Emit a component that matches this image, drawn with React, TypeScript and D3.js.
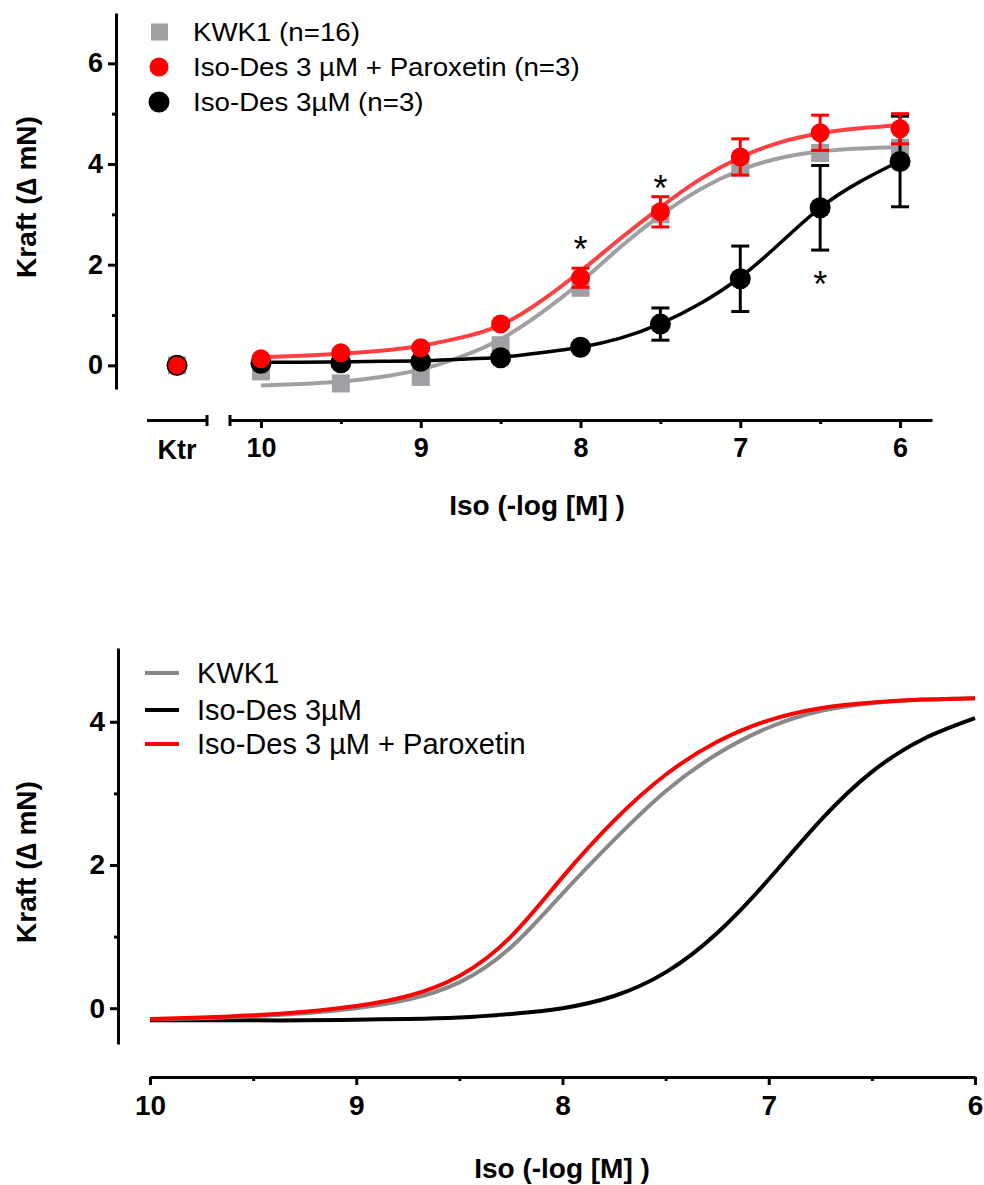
import * as d3 from "d3";
import { useEffect, useRef } from "react";

// concentrations (-log M) of the measured points
const conc = [10, 9.5, 9, 8.5, 8, 7.5, 7, 6.5, 6];
const kwk1Mean = [-0.12, -0.36, -0.23, 0.4, 1.54, 3.0, 3.93, 4.22, 4.32];
const paroMean = [0.13, 0.25, 0.35, 0.82, 1.74, 3.05, 4.14, 4.62, 4.7];
const paroErr = [0.04, 0.04, 0.04, 0.05, 0.19, 0.3, 0.36, 0.35, 0.3];
const desMean = [0.04, 0.05, 0.08, 0.15, 0.36, 0.82, 1.72, 3.13, 4.05];
const desErr = [0.04, 0.04, 0.04, 0.04, 0.05, 0.32, 0.65, 0.84, 0.9];
const ktrValue = 0;

// fitted curves
const fitConc = [10, 9.75, 9.5, 9.25, 9, 8.75, 8.5, 8.25, 8, 7.75, 7.5, 7.25, 7, 6.75, 6.5, 6.25, 6];
const kwk1Fit = [-0.4, -0.37, -0.32, -0.23, -0.08, 0.17, 0.52, 1.03, 1.65, 2.35, 2.98, 3.5, 3.88, 4.12, 4.25, 4.31, 4.34];
const paroFit = [0.16, 0.19, 0.23, 0.29, 0.39, 0.55, 0.8, 1.27, 1.87, 2.52, 3.14, 3.7, 4.13, 4.43, 4.61, 4.71, 4.77];
const desFit = [0.06, 0.06, 0.07, 0.08, 0.09, 0.12, 0.16, 0.25, 0.36, 0.54, 0.83, 1.23, 1.75, 2.43, 3.13, 3.65, 4.06];

// lower panel: fitted curves only
const kwk1Curve = [-0.15, -0.14, -0.11, -0.07, 0.0, 0.12, 0.36, 0.85, 1.6, 2.35, 3.03, 3.55, 3.92, 4.15, 4.26, 4.31, 4.33];
const desCurve = [-0.17, -0.17, -0.17, -0.17, -0.16, -0.15, -0.13, -0.08, 0.0, 0.17, 0.5, 1.05, 1.8, 2.62, 3.3, 3.76, 4.05];
const paroCurve = [-0.15, -0.13, -0.1, -0.05, 0.03, 0.17, 0.45, 1.0, 1.83, 2.62, 3.26, 3.72, 4.02, 4.19, 4.27, 4.31, 4.33];

const stars = [
  { x: 8, y: 2.45 },
  { x: 7.5, y: 3.66 },
  { x: 6.5, y: 1.75 },
];

const topLegend = ["KWK1 (n=16)", "Iso-Des 3 µM + Paroxetin (n=3)", "Iso-Des 3µM (n=3)"];
const bottomLegend = ["KWK1", "Iso-Des 3µM", "Iso-Des 3 µM + Paroxetin"];
const xMajor = [10, 9, 8, 7, 6];
const xMinor = [9.5, 8.5, 7.5, 6.5];
const yMajorTop = [0, 2, 4, 6];
const yMinorTop = [1, 3, 5];
const yMajorBottom = [0, 2, 4];
const yMinorBottom = [1, 3];

const GRAY = "#a0a0a4";
const RED = "#ff0000";
const FONT = "'Liberation Sans', Arial, sans-serif";

export default function App() {
  const ref = useRef(null);

  useEffect(() => {
    document.body.style.margin = "0";
    const svg = d3.select(ref.current);
    svg.selectAll("*").remove();

    function styleAxis(g, size) {
      g.attr("font-family", FONT).attr("font-size", size).attr("font-weight", "bold");
      g.selectAll("path, line").attr("stroke", "#000").attr("stroke-width", 3);
      g.selectAll("text").attr("fill", "#000");
    }

    function yAxis(scale, x, major, minor, size) {
      const g = svg.append("g").attr("transform", `translate(${x},0)`);
      g.call(d3.axisLeft(scale).tickValues(major).tickSize(8).tickSizeOuter(0).tickPadding(5).tickFormat(d3.format("d")));
      const m = svg.append("g").attr("transform", `translate(${x},0)`);
      m.call(d3.axisLeft(scale).tickValues(minor).tickSize(4).tickSizeOuter(0).tickFormat(() => ""));
      m.select(".domain").remove();
      styleAxis(g, size);
      styleAxis(m, size);
    }

    function xAxis(scale, y, size) {
      const g = svg.append("g").attr("transform", `translate(0,${y})`);
      g.call(d3.axisBottom(scale).tickValues(xMajor).tickSize(8).tickSizeOuter(0).tickPadding(10).tickFormat(d3.format("d")));
      const m = svg.append("g").attr("transform", `translate(0,${y})`);
      m.call(d3.axisBottom(scale).tickValues(xMinor).tickSize(4).tickSizeOuter(0).tickFormat(() => ""));
      m.select(".domain").remove();
      styleAxis(g, size);
      styleAxis(m, size);
    }

    function title(text, x, y, size, rotate) {
      svg.append("text")
        .attr("transform", `translate(${x},${y})${rotate ? " rotate(-90)" : ""}`)
        .attr("text-anchor", "middle")
        .attr("font-family", FONT)
        .attr("font-weight", "bold")
        .attr("font-size", size)
        .text(text);
    }

    // ---------- upper panel ----------
    const x = d3.scaleLinear().domain([10.2, 5.8]).range([229, 932]);
    const xKtr = d3.scalePoint().domain(["Ktr"]).range([147, 207]).padding(0.5);
    const y = d3.scaleLinear().domain([-0.47, 7.0]).range([389, 13]);
    const axisY = 420;

    yAxis(y, 116, yMajorTop, yMinorTop, 27);
    xAxis(x, axisY, 27);

    // Ktr segment of the broken axis
    svg.append("line").attr("x1", 147).attr("x2", 207).attr("y1", axisY + 0.5).attr("y2", axisY + 0.5)
      .attr("stroke", "#000").attr("stroke-width", 3);
    [207, 230].forEach(px => {
      svg.append("line").attr("x1", px).attr("x2", px).attr("y1", axisY - 5).attr("y2", axisY + 6)
        .attr("stroke", "#000").attr("stroke-width", 3);
    });
    svg.append("text")
      .attr("x", xKtr("Ktr")).attr("y", axisY + 39)
      .attr("text-anchor", "middle").attr("font-family", FONT).attr("font-weight", "bold").attr("font-size", 27)
      .text("Ktr");

    title("Kraft (∆ mN)", 36, 197, 28, true);
    title("Iso (-log [M] )", 537, 515, 28, false);

    const line = d3.line().x(d => x(d[0])).y(d => y(d[1])).curve(d3.curveNatural);
    const pts = arr => fitConc.map((c, i) => [c, arr[i]]);

    // KWK1
    svg.append("path").attr("d", line(pts(kwk1Fit))).attr("fill", "none").attr("stroke", GRAY).attr("stroke-width", 4);
    svg.append("g").selectAll("rect").data(conc).join("rect")
      .attr("x", d => x(d) - 9).attr("y", (d, i) => y(kwk1Mean[i]) - 9)
      .attr("width", 18).attr("height", 18).attr("fill", GRAY);

    function errBars(color, mean, err) {
      const g = svg.append("g").attr("stroke", color).attr("stroke-width", 3);
      conc.forEach((c, i) => {
        const cx = x(c);
        const lo = y(mean[i] - err[i]);
        const hi = y(mean[i] + err[i]);
        g.append("line").attr("x1", cx).attr("x2", cx).attr("y1", lo).attr("y2", hi);
        g.append("line").attr("x1", cx - 9).attr("x2", cx + 9).attr("y1", lo).attr("y2", lo);
        g.append("line").attr("x1", cx - 9).attr("x2", cx + 9).attr("y1", hi).attr("y2", hi);
      });
    }

    // Iso-Des 3 µM
    svg.append("path").attr("d", line(pts(desFit))).attr("fill", "none").attr("stroke", "#000").attr("stroke-width", 3.5);
    errBars("#000", desMean, desErr);
    svg.append("g").selectAll("circle").data(conc).join("circle")
      .attr("cx", d => x(d)).attr("cy", (d, i) => y(desMean[i])).attr("r", 10.5).attr("fill", "#000");

    // Iso-Des 3 µM + Paroxetin
    svg.append("path").attr("d", line(pts(paroFit))).attr("fill", "none").attr("stroke", RED)
      .attr("stroke-opacity", 0.75).attr("stroke-width", 4);
    errBars(RED, paroMean, paroErr);
    svg.append("g").selectAll("circle").data(conc).join("circle")
      .attr("cx", d => x(d)).attr("cy", (d, i) => y(paroMean[i])).attr("r", 9.5).attr("fill", RED);

    // Ktr (all groups at baseline)
    const kx = xKtr("Ktr");
    svg.append("rect").attr("x", kx - 9).attr("y", y(ktrValue) - 9).attr("width", 18).attr("height", 18).attr("fill", GRAY);
    svg.append("circle").attr("cx", kx).attr("cy", y(ktrValue)).attr("r", 10.5).attr("fill", "#000");
    svg.append("circle").attr("cx", kx).attr("cy", y(ktrValue)).attr("r", 9.5).attr("fill", RED)
      .attr("stroke", "#000").attr("stroke-width", 1.2);

    // significance marks
    svg.append("g").selectAll("text").data(stars).join("text")
      .attr("x", d => x(d.x)).attr("y", d => y(d.y) + 20)
      .attr("text-anchor", "middle").attr("font-family", FONT).attr("font-size", 36)
      .text("*");

    // legend (top)
    const lgTop = [32, 67, 102];
    svg.append("rect").attr("x", 151).attr("y", lgTop[0] - 8.5).attr("width", 17).attr("height", 17).attr("fill", GRAY);
    svg.append("circle").attr("cx", 159).attr("cy", lgTop[1]).attr("r", 9.5).attr("fill", RED);
    svg.append("circle").attr("cx", 159).attr("cy", lgTop[2]).attr("r", 10.5).attr("fill", "#000");
    topLegend.forEach((t, i) => {
      svg.append("text")
        .attr("transform", `translate(193,${lgTop[i] + 9}) scale(1.065,1)`)
        .attr("font-family", FONT).attr("font-size", 26)
        .text(t);
    });

    // ---------- lower panel ----------
    const x2 = d3.scaleLinear().domain([10, 6]).range([150, 975]);
    const y2 = d3.scaleLinear().domain([-0.5, 5.03]).range([1044, 648]);

    yAxis(y2, 118, yMajorBottom, yMinorBottom, 28);
    xAxis(x2, 1077, 28);
    title("Kraft (∆ mN)", 36, 862, 28, true);
    title("Iso (-log [M] )", 562, 1178, 28, false);

    const line2 = d3.line().x(d => x2(d[0])).y(d => y2(d[1])).curve(d3.curveNatural);
    const curves = [
      { v: desCurve, c: "#000" },
      { v: kwk1Curve, c: "#888888" },
      { v: paroCurve, c: RED },
    ];
    curves.forEach(s => {
      svg.append("path").attr("d", line2(pts(s.v))).attr("fill", "none").attr("stroke", s.c).attr("stroke-width", 4);
    });

    const lgBottom = [673, 710, 744];
    const lgColors = ["#888888", "#000", RED];
    bottomLegend.forEach((t, i) => {
      svg.append("line").attr("x1", 145).attr("x2", 179).attr("y1", lgBottom[i]).attr("y2", lgBottom[i])
        .attr("stroke", lgColors[i]).attr("stroke-width", 4);
      svg.append("text")
        .attr("x", 197).attr("y", lgBottom[i] + 10)
        .attr("font-family", FONT).attr("font-size", 29)
        .text(t);
    });
  }, []);

  return <svg ref={ref} width={984} height={1185} style={{ display: "block", background: "#fff" }} />;
}
